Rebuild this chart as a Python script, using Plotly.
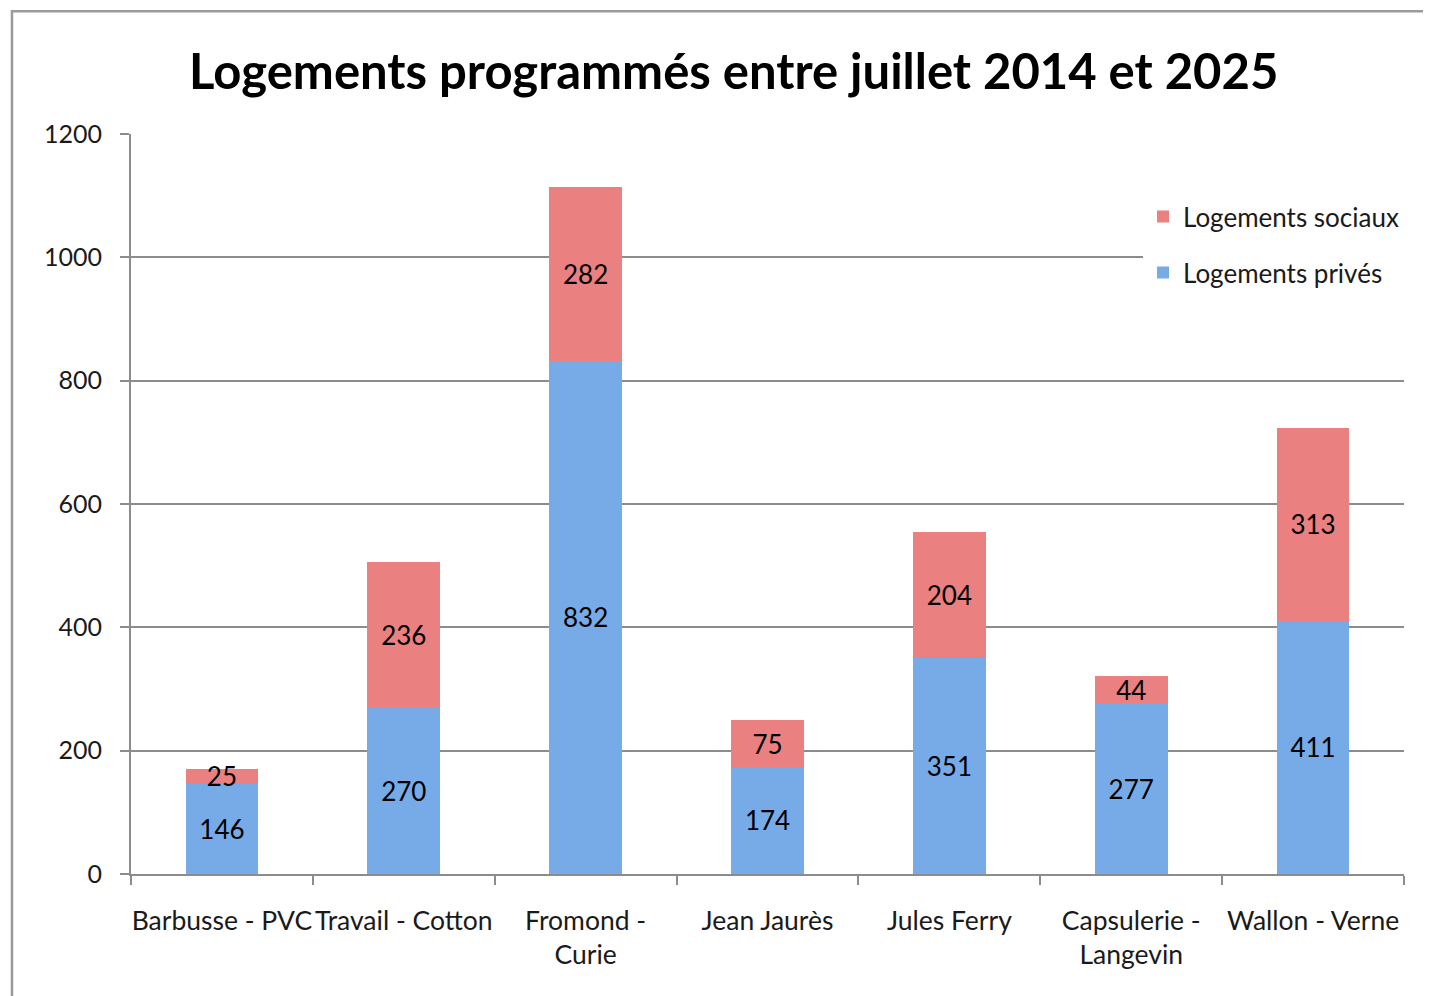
import plotly.graph_objects as go

# data
quartiers = ["Barbusse - PVC", "Travail - Cotton", "Fromond -<br>Curie", "Jean Jaurès",
             "Jules Ferry", "Capsulerie -<br>Langevin", "Wallon - Verne"]
prives = [146, 270, 832, 174, 351, 277, 411]
sociaux = [25, 236, 282, 75, 204, 44, 313]

FONT = "Lato"
GRID = "#8c8c8c"

fig = go.Figure()
fig.add_trace(go.Bar(
    x=quartiers, y=prives, name="Logements privés", legendgroup="p", legendrank=2,
    marker=dict(color="#77abe8", line=dict(width=0)),
    text=prives, textposition="inside", insidetextanchor="middle", textangle=0,
    textfont=dict(size=26, color="black", family=FONT),
))
fig.add_trace(go.Bar(
    x=quartiers, y=sociaux, name="Logements sociaux", legendgroup="s", legendrank=1,
    marker=dict(color="#ea8080", line=dict(width=0)),
    text=sociaux, textposition="inside", insidetextanchor="middle", textangle=0,
    textfont=dict(size=26, color="black", family=FONT),
))

# the page body has an 8px margin, so the figure is 8px smaller and shifted
fig.update_layout(
    width=1423, height=988,
    barmode="stack", bargap=0.6,
    paper_bgcolor="white", plot_bgcolor="white",
    font=dict(family=FONT, size=24, color="#1a1a1a"),
    margin=dict(l=123, r=27, t=126, b=122),
    title=dict(text="<b>Logements programmés entre juillet 2014 et 2025</b>",
               x=0.51, xanchor="center", y=0.935, yanchor="middle",
               font=dict(size=49, color="black", family=FONT)),
    uniformtext=dict(minsize=26, mode="show"),
    legend=dict(x=0.795, y=0.92, xanchor="left", yanchor="top",
                traceorder="grouped", bgcolor="white",
                font=dict(size=26), tracegroupgap=19),
    showlegend=True,
)
fig.update_xaxes(showline=True, linecolor=GRID, linewidth=2,
                 ticks="outside", tickson="boundaries", ticklen=9, tickcolor=GRID,
                 tickwidth=2, showgrid=False, tickfont=dict(size=26.5),
                 tickangle=0, automargin=False, ticklabelstandoff=22)
fig.update_yaxes(range=[0, 1200], dtick=200, showline=True, linecolor=GRID, linewidth=2,
                 ticks="outside", ticklen=9, tickcolor=GRID, tickwidth=2,
                 showgrid=True, gridcolor=GRID, gridwidth=2, zeroline=False,
                 tickfont=dict(size=25), ticklabelstandoff=13, automargin=False)

# outer frame of the chart, cut off at the right and bottom like the screenshot
fig.add_shape(type="rect", xref="paper", yref="paper",
              x0=-0.0935, x1=1.05, y0=-0.2, y1=1.166,
              line=dict(color="#9a9a9a", width=2.5), layer="below")

fig.write_html("out.html")
